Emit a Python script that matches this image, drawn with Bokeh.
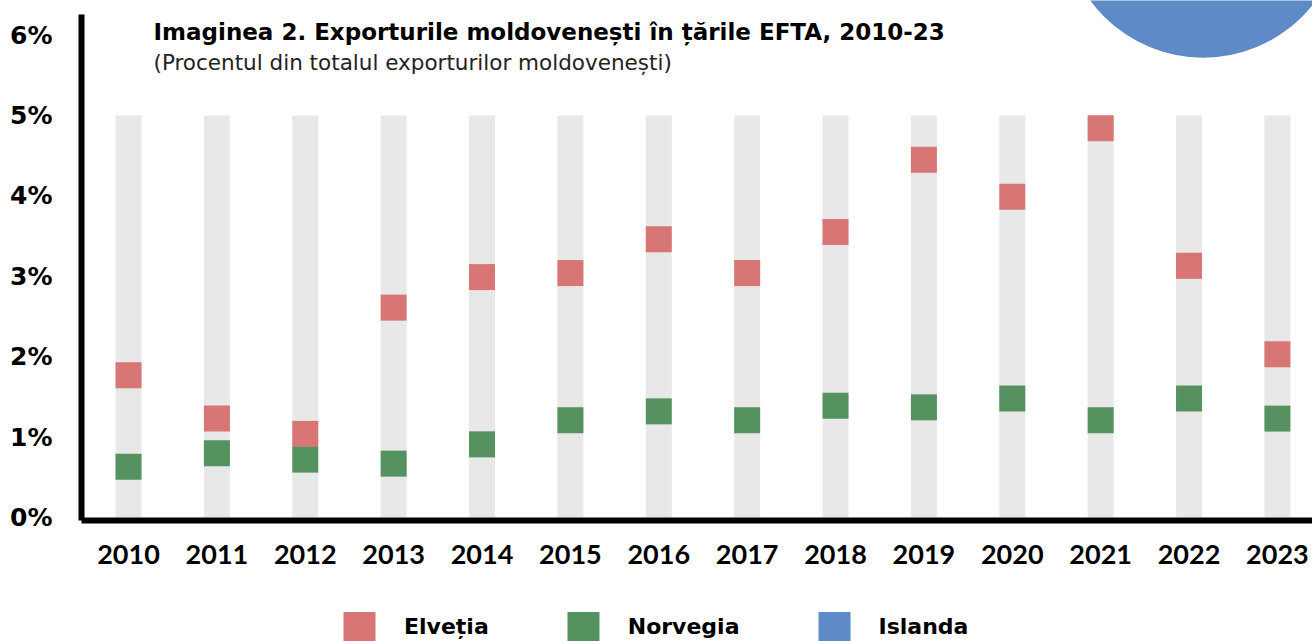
from bokeh.plotting import figure
from bokeh.layouts import column
from bokeh.models import ColumnDataSource, FixedTicker, Label, Legend, LegendItem, Range1d
from bokeh.embed import file_html
from bokeh.resources import INLINE

# ---------------- data ----------------
years = list(range(2010, 2024))
year_labels = [str(y) for y in years]
elvetia = [1.77, 1.23, 1.04, 2.61, 2.99, 3.04, 3.46, 3.04, 3.55, 4.45, 3.99, 4.84, 3.13, 2.03]
norvegia = [0.63, 0.80, 0.72, 0.67, 0.91, 1.21, 1.32, 1.21, 1.39, 1.37, 1.48, 1.21, 1.48, 1.23]
background_top = [5.0] * len(years)
y_ticks = [0, 1, 2, 3, 4, 5, 6]
y_tick_labels = ["0%", "1%", "2%", "3%", "4%", "5%", "6%"]
series_names = ["Elveția", "Norvegia", "Islanda"]
title_text = "Imaginea 2. Exporturile moldovenești în țările EFTA, 2010-23"
subtitle_text = "(Procentul din totalul exporturilor moldovenești)"
# decorative blue disc in the top-right corner (x in years, y in %)
decor_x, decor_y, decor_r = [2022.16], [7.46], 1.585

RED = "#d87575"
GREEN = "#55925f"
BLUE = "#5e8ac7"
GREY = "#e8e8e8"
COLORS = [RED, GREEN, BLUE]

src = ColumnDataSource(dict(x=years, elv=elvetia, nor=norvegia, top=background_top))

# ---------------- main chart ----------------
p = figure(width=1312, height=590, output_backend="svg", toolbar_location=None,
           x_range=Range1d(2009.468, 2023.397), y_range=Range1d(-0.0373, 6.430),
           min_border_left=81, min_border_right=0, min_border_top=0, min_border_bottom=70)
p.outline_line_color = None
p.xgrid.visible = False
p.ygrid.visible = False
p.background_fill_color = "white"

p.vbar(x="x", top="top", bottom=0, width=0.294, source=src, fill_color=GREY, line_color=None)
p.rect(x="x", y="elv", width=26, height=26, width_units="screen", height_units="screen",
       source=src, fill_color=RED, line_color=None)
p.rect(x="x", y="nor", width=26, height=26, width_units="screen", height_units="screen",
       source=src, fill_color=GREEN, line_color=None)
p.circle(x=decor_x, y=decor_y, radius=decor_r, fill_color=BLUE, line_color=None)

xa = p.xaxis[0]
xa.ticker = FixedTicker(ticks=years)
xa.major_label_overrides = {y: l for y, l in zip(years, year_labels)}
xa.axis_line_width = 6
xa.axis_line_color = "black"
xa.major_tick_line_color = None
xa.minor_tick_line_color = None
xa.major_label_text_font = "Lato"
xa.major_label_text_font_style = "bold"
xa.major_label_text_font_size = "27px"
xa.major_label_text_color = "black"
xa.major_label_standoff = 18

ya = p.yaxis[0]
ya.ticker = FixedTicker(ticks=y_ticks)
ya.major_label_overrides = {t: l for t, l in zip(y_ticks, y_tick_labels)}
ya.bounds = (-0.075, 6.256)
ya.axis_line_width = 6
ya.axis_line_color = "black"
ya.major_tick_line_color = None
ya.minor_tick_line_color = None
ya.major_label_text_font = "DejaVu Sans"
ya.major_label_text_font_style = "bold"
ya.major_label_text_font_size = "25px"
ya.major_label_text_color = "black"
ya.major_label_standoff = 23

p.add_layout(Label(x=72, y=489, x_units="screen", y_units="screen", text=title_text,
                   text_font="DejaVu Sans", text_font_style="bold", text_font_size="23px",
                   text_color="black", text_baseline="alphabetic"))
p.add_layout(Label(x=72, y=458, x_units="screen", y_units="screen", text=subtitle_text,
                   text_font="DejaVu Sans", text_font_size="21.5px",
                   text_color="#222222", text_baseline="alphabetic"))

# ---------------- legend strip ----------------
lg = figure(width=1312, height=51, output_backend="svg", toolbar_location=None,
            x_range=Range1d(0, 1), y_range=Range1d(0, 1), x_axis_type=None, y_axis_type=None,
            min_border_left=0, min_border_right=0, min_border_top=0, min_border_bottom=0)
lg.outline_line_color = None
lg.xgrid.visible = False
lg.ygrid.visible = False
items = []
for name, col, ycol in zip(series_names, COLORS, ["elv", "nor", "top"]):
    # legend-only renderers: the years lie outside this strip's x range, so nothing is drawn
    r = lg.rect(x="x", y=ycol, width=26, height=26, width_units="screen", height_units="screen",
                source=src, fill_color=col, line_color=None)
    items.append(LegendItem(label=name, renderers=[r], index=0))
legend = Legend(items=items, orientation="horizontal", location=(258, -3),
                glyph_width=40, glyph_height=36, label_standoff=25, spacing=74,
                padding=0, margin=0, border_line_color=None, background_fill_alpha=0,
                label_text_font="DejaVu Sans", label_text_font_style="bold",
                label_text_font_size="22px", label_height=36, label_text_color="black")
lg.add_layout(legend)

layout = column(p, lg, spacing=0)
open("out.html", "w").write(file_html(layout, INLINE))
